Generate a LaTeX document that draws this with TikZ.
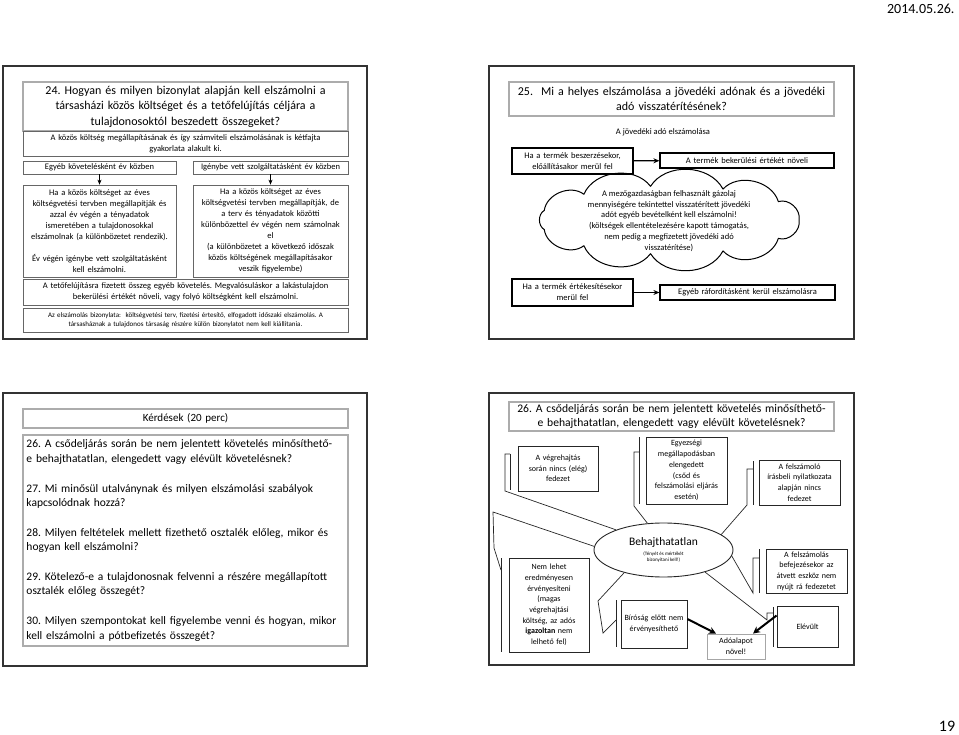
\documentclass[tikz,border=0pt]{standalone}
\usepackage{fontspec}
\setmainfont{Carlito}
\frenchspacing
\usetikzlibrary{shapes.geometric,arrows.meta,calc}

\begin{document}
\begin{tikzpicture}[x=1pt, y=-1pt,
    slide/.style={draw=black!80, line width=1.3pt},
    titlebox/.style={draw=gray!65, line width=1.6pt, align=center, inner sep=0pt, font=\fontsize{12}{15.5}\selectfont},
    greybox/.style={draw=black!60, line width=.7pt, align=center, inner sep=0pt, font=\fontsize{8.5}{11}\selectfont},
    blackbox/.style={draw=black, line width=1.2pt, align=center, inner sep=0pt, font=\fontsize{8.5}{11}\selectfont},
    callbox/.style={draw=black!85, line width=.9pt, align=center, inner sep=0pt, font=\fontsize{8}{10.7}\selectfont},
    leader/.style={draw=black!85, line width=.7pt},
    downarrow/.style={-{Stealth[length=5pt,width=4pt]}, line width=.9pt},
    sidearrow/.style={-{Stealth[length=6pt,width=5pt]}, line width=1.3pt},
    fatarrow/.style={-{Stealth[length=7pt,width=7pt]}, line width=2pt}
  ]
  \useasboundingbox (0,0) rectangle (959,735);

  % fejlec, oldalszam
  \node[anchor=east, font=\fontsize{14}{16}\selectfont] (datum) at (958,9) {2014.05.26.};
  \node[font=\fontsize{16}{18}\selectfont] (oldal) at (947,726) {19};

  % 24. dia
  \draw[slide] (3,66) rectangle (367,339);
  \node[titlebox, minimum width=325pt, minimum height=49pt, text width=320pt] (q24) at (185.5,106.5)
    {24. Hogyan és milyen bizonylat alapján kell elszámolni a\\ társasházi közös költséget és a tetőfelújítás céljára a\\ tulajdonosoktól beszedett összegeket?};
  \node[greybox, minimum width=325pt, minimum height=25pt, text width=320pt] (ketfajta) at (185.5,143.5)
    {A közös költség megállapításának és így számviteli elszámolásának is kétfajta\\ gyakorlata alakult ki.};
  \node[greybox, minimum width=153pt, minimum height=13pt, text width=150pt] (egyeb) at (99.5,167.5)
    {Egyéb követelésként év közben};
  \node[greybox, minimum width=155pt, minimum height=13pt, text width=152pt] (igenybe) at (270.5,167.5)
    {Igénybe vett szolgáltatásként év közben};
  \node[greybox, minimum width=153pt, minimum height=92pt, text width=150pt] (evesbal) at (99.5,231)
    {Ha a közös költséget az éves\\ költségvetési tervben megállapítják és\\ azzal év végén a tényadatok\\ ismeretében a tulajdonosokkal\\ elszámolnak (a különbözetet rendezik).\\[11pt] Év végén igénybe vett szolgáltatásként\\ kell elszámolni.};
  \node[greybox, minimum width=155pt, minimum height=92pt, text width=152pt] (evesjobb) at (270.5,231)
    {Ha a közös költséget az éves\\ költségvetési tervben megállapítják, de\\ a terv és tényadatok közötti\\ különbözettel év végén nem számolnak\\ el\\ (a különbözetet a következő időszak\\ közös költségének megállapításakor\\ veszik figyelembe)};
  \node[greybox, minimum width=325pt, minimum height=26pt, text width=320pt] (teto) at (185.5,292)
    {A tetőfelújításra fizetett összeg egyéb követelés. Megvalósuláskor a lakástulajdon\\ bekerülési értékét növeli, vagy folyó költségként kell elszámolni.};
  \node[greybox, minimum width=325pt, minimum height=24pt, text width=320pt, font=\fontsize{7}{9.5}\selectfont] (bizonylat) at (185.5,320)
    {Az elszámolás bizonylata:~ költségvetési terv, fizetési értesítő, elfogadott időszaki elszámolás. A\\ társasháznak a tulajdonos társaság részére külön bizonylatot nem kell kiállítania.};
  \draw[downarrow] (egyeb) -- (evesbal);
  \draw[downarrow] (igenybe) -- (evesjobb);

  % 25. dia
  \draw[slide] (489,66) rectangle (854,339);
  \node[titlebox, minimum width=325pt, minimum height=34pt, text width=320pt] (q25) at (671.5,99)
    {25.~ Mi a helyes elszámolása a jövedéki adónak és a jövedéki\\ adó visszatérítésének?};
  \node[font=\fontsize{8.5}{11}\selectfont] (jovedeki) at (663,132) {A jövedéki adó elszámolása};
  \node[blackbox, minimum width=121pt, minimum height=26pt, text width=118pt] (beszerz) at (572.5,161)
    {Ha a termék beszerzésekor,\\ előállításakor merül fel};
  \node[blackbox, minimum width=174pt, minimum height=15pt, text width=170pt] (bekerul) at (747,160.5)
    {A termék bekerülési értékét növeli};
  \draw[sidearrow] (beszerz) -- (bekerul);
  % felho
  \draw[line width=1pt, line join=round] (799,220)
    \foreach \k in {1,...,11} { to[bend left=60] ({669+130*cos(\k*360/11)},{220+34*sin(\k*360/11)}) };
  \node[align=center, font=\fontsize{8.5}{10.8}\selectfont] (gazolaj) at (669,221)
    {A mezőgazdaságban felhasznált gázolaj\\ mennyiségére tekintettel visszatérített jövedéki\\ adót egyéb bevételként kell elszámolni!\\ (költségek ellentételezésére kapott támogatás,\\ nem pedig a megfizetett jövedéki adó\\ visszatérítése)};
  \node[blackbox, minimum width=121pt, minimum height=27pt, text width=118pt] (ertekesit) at (572.5,292.5)
    {Ha a termék értékesítésekor\\ merül fel};
  \node[blackbox, minimum width=175pt, minimum height=15pt, text width=170pt] (raford) at (747.5,292.5)
    {Egyéb ráfordításként kerül elszámolásra};
  \draw[sidearrow] (ertekesit) -- (raford);

  % kerdesek dia
  \draw[slide] (3,393) rectangle (367,666);
  \node[titlebox, minimum width=325pt, minimum height=19pt, text width=320pt, font=\fontsize{11}{13}\selectfont] (kerdesek) at (185.5,418.5)
    {Kérdések (20 perc)};
  \node[titlebox, minimum width=325pt, minimum height=211pt, text width=318pt, align=left,
    font=\fontsize{11.5}{14.7}\selectfont] (kerdlista) at (185.5,540.5)
    {26. A csődeljárás során be nem jelentett követelés minősíthető-\\ e behajthatatlan, elengedett vagy elévült követelésnek?\\[14.7pt]
     27. Mi minősül utalványnak és milyen elszámolási szabályok\\ kapcsolódnak hozzá?\\[14.7pt]
     28. Milyen feltételek mellett fizethető osztalék előleg, mikor és\\ hogyan kell elszámolni?\\[14.7pt]
     29. Kötelező-e a tulajdonosnak felvenni a részére megállapított\\ osztalék előleg összegét?\\[14.7pt]
     30. Milyen szempontokat kell figyelembe venni és hogyan, mikor\\ kell elszámolni a pótbefizetés összegét?};

  % 26. dia
  \draw[slide] (489,393) rectangle (854,665);
  \node[titlebox, minimum width=325pt, minimum height=29pt, text width=325pt, font=\fontsize{11.6}{13.5}\selectfont] (q26) at (671.5,416.5)
    {26. A csődeljárás során be nem jelentett követelés minősíthető-\\ e behajthatatlan, elengedett vagy elévült követelésnek?};
  \node[ellipse, draw=black!85, line width=.9pt, minimum width=139pt, minimum height=54pt, inner sep=0pt, align=center,
    font=\fontsize{5}{6.2}\selectfont] (beh) at (663.5,550)
    {{\fontsize{11.5}{12}\selectfont Behajthatatlan}\\[3pt] (Tényét és mértékét\\ bizonyítani kell!)};
  \node[callbox, minimum width=80pt, minimum height=45pt, text width=77pt] (vegreh) at (558,468.5)
    {A végrehajtás\\ során nincs (elég)\\ fedezet};
  \node[callbox, minimum width=81pt, minimum height=67pt, text width=78pt] (egyezs) at (686.5,470.5)
    {Egyezségi\\ megállapodásban\\ elengedett\\ (csőd és\\ felszámolási eljárás\\ esetén)};
  \node[callbox, minimum width=81pt, minimum height=45pt, text width=78pt] (felszamolo) at (799.5,482.5)
    {A felszámoló\\ írásbeli nyilatkozata\\ alapján nincs\\ fedezet};
  \node[callbox, minimum width=81pt, minimum height=44pt, text width=78pt] (befejez) at (806.5,571)
    {A felszámolás\\ befejezésekor az\\ átvett eszköz nem\\ nyújt rá fedezetet};
  \node[callbox, minimum width=80pt, minimum height=94pt, text width=77pt] (nemlehet) at (549,605)
    {Nem lehet\\ eredményesen\\ érvényesíteni\\ (magas\\ végrehajtási\\ költség, az adós\\ \textbf{igazoltan} nem\\ lelhető fel)};
  \node[callbox, minimum width=66pt, minimum height=48pt, text width=64pt] (birosag) at (654,624)
    {Bíróság előtt nem\\ érvényesíthető};
  \node[callbox, draw=gray!70, minimum width=58pt, minimum height=25pt, text width=56pt] (adoalap) at (736,646.5)
    {Adóalapot\\ növel!};
  \node[callbox, minimum width=61pt, minimum height=41pt, text width=58pt] (elevult) at (807.5,626.5)
    {Elévült};
  % hivatkozo vonalak
  \draw[leader] (beh.157) -- (505,491) -- (505,454) -- (510,454);
  \draw[leader] (510,454) -- (510,490);
  \draw[leader] (beh.121) -- (634,506) -- (634,452) -- (639,452);
  \draw[leader] (639,437) -- (639,504);
  \draw[leader] (beh.15) -- (747,505) -- (747,469) -- (753,469);
  \draw[leader] (753,461) -- (753,505);
  \draw[leader] (beh.-5) -- (753,593) -- (753,558) -- (759,558);
  \draw[leader] (759,549) -- (759,593);
  \draw[leader] (beh.-28) -- (767,620) -- (767,613) -- (773,613);
  \draw[leader] (773,607) -- (773,647);
  \draw[leader] (beh.177) -- (493,512) -- (494,548) -- (501,570);
  \draw[leader] (501,558) -- (501,652);
  \draw[leader] (beh.-150) -- (598,601) -- (603,633) -- (616,620);
  \draw[leader] (616,600) -- (616,647);
  \draw[fatarrow] ($(birosag.east)+(0,-5)$) -- ($(adoalap.north)+(-20,0)$);
  \draw[fatarrow] ($(elevult.west)+(0,-11)$) -- ($(adoalap.north)+(17,0)$);
\end{tikzpicture}
\end{document}
